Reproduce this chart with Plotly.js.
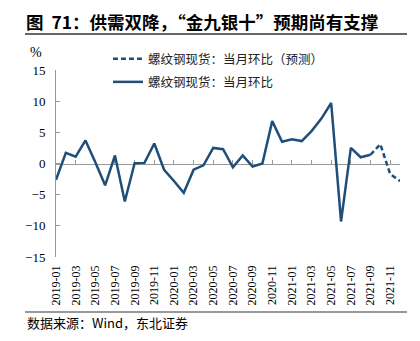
<!DOCTYPE html>
<html>
<head>
<meta charset="utf-8">
<script src="https://cdn.plot.ly/plotly-3.0.1.min.js"></script>
<style>html,body{margin:0;padding:0;background:#fff;}#chart{width:420px;height:341px;}</style>
</head>
<body>
<div id="chart"></div>
<script>
var months = ["2019-01","2019-02","2019-03","2019-04","2019-05","2019-06","2019-07","2019-08","2019-09","2019-10","2019-11","2019-12",
"2020-01","2020-02","2020-03","2020-04","2020-05","2020-06","2020-07","2020-08","2020-09","2020-10","2020-11","2020-12",
"2021-01","2021-02","2021-03","2021-04","2021-05","2021-06","2021-07","2021-08","2021-09","2021-10","2021-11","2021-12"];
var actualMonths = months.slice(0, 33);
var actualValues = [-2.6, 1.7, 1.1, 3.7, 0.2, -3.5, 1.3, -6.1, 0.05, 0.1, 3.2, -1.0,
  -2.8, -4.7, -1.0, -0.3, 2.5, 2.3, -0.6, 1.3, -0.5, 0.0, 6.8, 3.5,
  3.9, 3.6, 5.2, 7.2, 9.7, -9.3, 2.5, 1.0, 1.4];
var forecastMonths = ["2021-09","2021-10","2021-11","2021-12"];
var forecastValues = [1.4, 3.1, -1.7, -2.8];
var tickMonths = months.filter(function(m, i){ return i % 2 === 0; });
var seriesNames = ["螺纹钢现货：当月环比（预测）", "螺纹钢现货：当月环比"];

var L = 56, R = 20, T = 70, B = 84;
var W = 420, H = 341;
var pw = W - L - R, ph = H - T - B;
function px(x){ return (x - L) / pw; }
function py(y){ return (H - B - y) / ph; }

var lineColor = "#1f4e79";
var traces = [
  {x: forecastMonths, y: forecastValues, name: seriesNames[0], type: "scatter", mode: "lines",
   line: {color: lineColor, width: 2.5, dash: "5px,3px"}, legendgroup: "a", xaxis: "x2"},
  {x: actualMonths, y: actualValues, name: seriesNames[1], type: "scatter", mode: "lines",
   line: {color: lineColor, width: 2.5}, legendgroup: "b", xaxis: "x"}
];

var serif = "Liberation Serif";
var cjk = "Noto Sans CJK SC";

var layout = {
  width: W, height: H,
  margin: {l: L, r: R, t: T, b: B},
  paper_bgcolor: "#fff", plot_bgcolor: "#fff",
  font: {family: serif},
  showlegend: true,
  legend: {x: px(108), y: py(44), xanchor: "left", yanchor: "top", bgcolor: "rgba(0,0,0,0)",
    font: {family: cjk, size: 12.5, color: "#222"}, traceorder: "grouped", tracegroupgap: 4},
  title: {text: "图  71：供需双降，“金九银十”预期尚有支撑", x: 26/W, xref: "container", xanchor: "left",
    y: 1 - 23/H, yref: "container", yanchor: "middle",
    font: {family: cjk, size: 17.5, color: "#000", weight: "bold"}},
  xaxis: {type: "category", categoryorder: "array", categoryarray: months, range: [0, 35],
    tickmode: "array", tickvals: tickMonths, ticktext: tickMonths, tickangle: -90,
    showline: false, ticks: "", showgrid: false, zeroline: false, ticklabelstandoff: 5,
    tickfont: {family: serif, size: 12, color: "#000"}},
  xaxis2: {type: "category", categoryorder: "array", categoryarray: months, range: [0, 35],
    overlaying: "x", anchor: "free", position: 0.5, side: "bottom",
    tickmode: "array", tickvals: tickMonths, showticklabels: false,
    showline: true, linecolor: "#999", linewidth: 1, ticks: "inside", ticklen: 4, tickcolor: "#999",
    showgrid: false, zeroline: false, layer: "below traces"},
  yaxis: {range: [-15, 15], dtick: 5, tick0: 0, showline: true, linecolor: "#999", linewidth: 1,
    ticks: "inside", ticklen: 4, tickcolor: "#999", showgrid: false, zeroline: false, ticklabelstandoff: 7,
    tickfont: {family: serif, size: 13, color: "#000"}},
  annotations: [
    {text: "%", xref: "paper", yref: "paper", x: px(28), y: py(52), xanchor: "left", yanchor: "middle",
     showarrow: false, font: {family: serif, size: 14, color: "#000"}},
    {text: "数据来源：Wind，东北证券", xref: "paper", yref: "paper", x: px(25), y: py(322), xanchor: "left", yanchor: "middle",
     showarrow: false, font: {family: cjk, size: 13, color: "#000"}}
  ],
  shapes: [
    {type: "line", xref: "paper", yref: "paper", x0: px(25), x1: px(407), y0: py(34), y1: py(34),
     line: {color: "#333", width: 1.5}},
    {type: "line", xref: "paper", yref: "paper", x0: px(25), x1: px(407), y0: py(312), y1: py(312),
     line: {color: "#999", width: 2}}
  ]
};

Plotly.newPlot("chart", traces, layout, {displayModeBar: false, staticPlot: true});
</script>
</body>
</html>
